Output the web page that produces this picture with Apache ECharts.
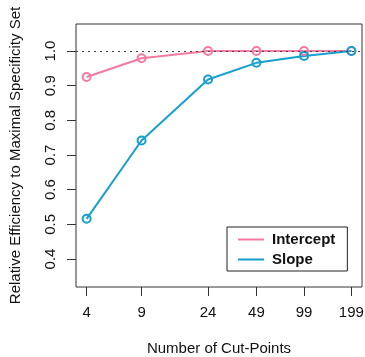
<!DOCTYPE html>
<html>
<head>
<meta charset="utf-8">
<script src="https://cdn.jsdelivr.net/npm/echarts@6/dist/echarts.min.js"></script>
<style>
  html, body { margin: 0; padding: 0; background: #fff; }
  #chart { width: 365px; height: 357px; }
</style>
</head>
<body>
<div id="chart"></div>
<script>
// Number of cut-points (plotted on a log10 scale)
const cutPoints = [4, 9, 24, 49, 99, 199];
const interceptEff = [0.925, 0.979, 1.0, 1.0, 1.0, 1.0];
const slopeEff = [0.516, 0.742, 0.918, 0.966, 0.986, 1.0];
const yTicks = [0.4, 0.5, 0.6, 0.7, 0.8, 0.9, 1.0];
const seriesNames = ['Intercept', 'Slope'];

const PINK = '#F47AA1';
const BLUE = '#169FCF';
const FONT = 'Liberation Sans, Arial, sans-serif';

const logX = cutPoints.map(v => Math.log10(v));
const toPairs = vals => vals.map((v, i) => [logX[i], v]);

const chart = echarts.init(document.getElementById('chart'), null, { renderer: 'canvas' });

const lineSeries = (name, vals, color) => ({
  name: name,
  type: 'line',
  data: toPairs(vals),
  symbol: 'circle',
  symbolSize: 8,
  showSymbol: true,
  lineStyle: { color: color, width: 2 },
  itemStyle: { color: 'rgba(0,0,0,0)', borderColor: color, borderWidth: 2 },
  emphasis: { disabled: true },
  z: 3
});

chart.setOption({
  animation: false,
  backgroundColor: '#fff',
  grid: {
    left: 76, top: 24, width: 286, height: 263,
    containLabel: false,
    outerBoundsMode: 'none',
    show: true, borderColor: '#333', borderWidth: 1, backgroundColor: 'transparent'
  },
  xAxis: {
    type: 'value',
    min: 0.534,
    max: 2.367,
    name: 'Number of Cut-Points',
    nameLocation: 'middle',
    nameGap: 54,
    nameTextStyle: { fontFamily: FONT, fontSize: 15, color: '#111' },
    axisLine: { show: false },
    splitLine: { show: false },
    axisTick: { show: true, inside: false, length: 9, customValues: logX, lineStyle: { color: '#333' } },
    axisLabel: {
      customValues: logX,
      margin: 18,
      fontFamily: FONT, fontSize: 15, color: '#111',
      formatter: v => {
        const i = logX.findIndex(x => Math.abs(x - v) < 1e-6);
        return i >= 0 ? String(cutPoints[i]) : '';
      }
    }
  },
  yAxis: {
    type: 'value',
    min: 0.3193,
    max: 1.078,
    name: 'Relative Efficiency to Maximal Specificity Set',
    nameLocation: 'middle',
    nameGap: 53,
    nameTextStyle: { fontFamily: FONT, fontSize: 15, color: '#111' },
    axisLine: { show: false },
    splitLine: { show: false },
    axisTick: { show: true, inside: false, length: 9, customValues: yTicks, lineStyle: { color: '#333' } },
    axisLabel: {
      customValues: yTicks,
      rotate: 90,
      margin: 18,
      fontFamily: FONT, fontSize: 15, color: '#111',
      formatter: v => v.toFixed(1)
    }
  },
  legend: {
    orient: 'vertical',
    left: 227,
    top: 227,
    width: 121,
    data: [
      { name: seriesNames[0], itemStyle: { color: PINK, borderWidth: 0 } },
      { name: seriesNames[1], itemStyle: { color: BLUE, borderWidth: 0 } }
    ],
    icon: 'rect',
    itemWidth: 26,
    itemHeight: 2,
    itemGap: 5,
    padding: [5, 12, 4, 11],
    borderColor: '#222',
    borderWidth: 1,
    backgroundColor: '#fff',
    textStyle: { fontFamily: FONT, fontSize: 15, fontWeight: 'bold', color: '#111', padding: [0, 0, 0, 3] },
    selectedMode: false
  },
  series: [
    lineSeries(seriesNames[0], interceptEff, PINK),
    lineSeries(seriesNames[1], slopeEff, BLUE),
    {
      type: 'line',
      data: [],
      silent: true,
      markLine: {
        silent: true,
        symbol: 'none',
        label: { show: false },
        lineStyle: { color: '#444', type: [2, 4], width: 1.2 },
        data: [{ yAxis: 1.0 }]
      },
      z: 2
    }
  ]
});
</script>
</body>
</html>
